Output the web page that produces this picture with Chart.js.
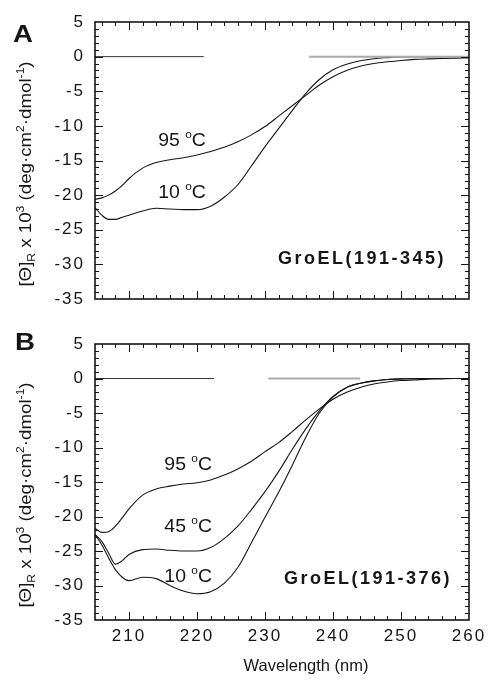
<!DOCTYPE html>
<html>
<head>
<meta charset="utf-8">
<script src="https://cdn.jsdelivr.net/npm/chart.js@4.4.1/dist/chart.umd.min.js"></script>
<style>
  html, body { margin: 0; padding: 0; background: #fff; }
  #wrap { position: relative; width: 491px; height: 684px; }
  canvas { position: absolute; left: 0; }
  #cvA { top: 0; }
  #cvB { top: 320px; }
</style>
</head>
<body>
<div id="wrap">
  <canvas id="cvA" width="491" height="320"></canvas>
  <canvas id="cvB" width="491" height="364"></canvas>
</div>
<script>
// ── data (values x 10^3) ──────────────────────────────────────
const wavelengths = [205, 206, 207, 208, 209, 210, 212, 214, 216, 218, 220, 222, 224, 226, 228,
                     230, 232, 234, 236, 238, 240, 242, 244, 246, 248, 250, 252, 254, 256, 258, 260];

// GroEL(191-345)
const groelA_10C = [-21.8, -22.9, -23.5, -23.5, -23.2, -22.9, -22.3, -21.9, -22.0, -22.1, -22.1, -21.6, -20.3, -18.5, -15.8,
                    -13.0, -10.4, -7.8, -5.3, -3.3, -1.9, -1.1, -0.6, -0.3, -0.15, -0.05, 0, 0, 0, 0, 0];
const groelA_95C = [-20.6, -20.4, -20.0, -19.4, -18.6, -17.6, -16.1, -15.3, -14.9, -14.6, -14.2, -13.7, -13.1, -12.3, -11.3,
                    -10.1, -8.6, -7.1, -5.6, -4.1, -2.9, -2.0, -1.4, -1.0, -0.75, -0.55, -0.4, -0.32, -0.26, -0.22, -0.2];

// GroEL(191-376)
const groelB_10C = [-22.6, -24.1, -26.0, -27.7, -28.8, -29.3, -28.8, -29.0, -30.0, -30.8, -31.2, -30.9, -29.7, -27.4, -23.8,
                    -20.1, -16.5, -12.6, -8.5, -5.0, -2.7, -1.3, -0.7, -0.35, -0.15, -0.05, 0, 0, 0, 0, 0];
const groelB_45C = [-22.6, -23.6, -25.3, -26.9, -26.4, -25.5, -24.8, -24.7, -24.9, -25.0, -25.0, -24.5, -23.2, -21.4, -19.0,
                    -16.4, -13.5, -10.3, -7.3, -4.7, -2.6, -1.3, -0.7, -0.35, -0.15, -0.05, 0, 0, 0, 0, 0];
const groelB_95C = [-21.7, -22.3, -22.2, -21.4, -20.2, -18.9, -16.9, -16.0, -15.6, -15.3, -15.1, -14.7, -14.0, -13.1, -12.0,
                    -10.6, -9.3, -7.7, -6.0, -4.4, -3.0, -2.0, -1.3, -0.8, -0.5, -0.3, -0.2, -0.1, -0.05, 0, 0];

// zero baseline pieces (wavelength ranges): dark part, then grey part
const baseA_dark = [205, 221];
const baseA_grey = [236.5, 260];
const baseB_dark = [205, 222.5];
const baseB_grey = [230.5, 244];

const xTicks = [210, 220, 230, 240, 250, 260];
const yTicks = [5, 0, -5, -10, -15, -20, -25, -30, -35];

const FONT = "'Liberation Sans', Arial, Helvetica, sans-serif";
const INK = '#151515';

// draw a run of text pieces (sub/superscripts) as one line
function rich(ctx, x, y, parts, o = {}) {
  ctx.save();
  ctx.translate(x, y);
  if (o.angle) ctx.rotate(o.angle);
  ctx.scale(o.sx || 1, 1);
  ctx.fillStyle = INK;
  ctx.textBaseline = 'alphabetic';
  ctx.textAlign = 'left';
  let total = 0;
  parts.forEach(p => {
    ctx.font = `${p.bold ? 'bold ' : ''}${p.size}px ${FONT}`;
    ctx.letterSpacing = (p.ls || 0) + 'px';
    p.w = ctx.measureText(p.t).width;
    total += p.w;
  });
  let cx = o.align === 'right' ? -total : o.align === 'left' ? 0 : -total / 2;
  parts.forEach(p => {
    ctx.font = `${p.bold ? 'bold ' : ''}${p.size}px ${FONT}`;
    ctx.letterSpacing = (p.ls || 0) + 'px';
    ctx.fillText(p.t, cx, p.dy || 0);
    cx += p.w;
  });
  ctx.restore();
}

function degLabel(num) {
  return [{ t: num + ' ', size: 18 }, { t: 'o', size: 11, dy: -8 }, { t: 'C', size: 18 }];
}

const yTitle = [
  { t: '[Θ]', size: 17 }, { t: 'R', size: 11, dy: 4 },
  { t: ' x 10', size: 17 }, { t: '3', size: 11, dy: -7 },
  { t: ' (deg·cm', size: 17 }, { t: '2', size: 11, dy: -7 },
  { t: '·dmol', size: 17 }, { t: '-1', size: 11, dy: -7 },
  { t: ')', size: 17 }
];

// frame + inward minor/major ticks on all four sides
const frameTicks = {
  id: 'frameTicks',
  beforeDraw(chart) { chart.ctx.letterSpacing = '2px'; },
  afterDatasetsDraw(chart) {
    const { ctx, chartArea: a, scales: { x, y } } = chart;
    ctx.save();
    ctx.letterSpacing = '0px';
    ctx.strokeStyle = INK;
    ctx.lineWidth = 1;
    ctx.beginPath();
    for (let v = 206; v < 260; v += 2) {
      const px = Math.round(x.getPixelForValue(v)) + 0.5;
      const len = v % 10 === 0 ? 8 : 4;
      ctx.moveTo(px, a.bottom); ctx.lineTo(px, a.bottom - len);
      ctx.moveTo(px, a.top); ctx.lineTo(px, a.top + len);
    }
    for (let v = -34; v < 5; v++) {
      const py = Math.round(y.getPixelForValue(v)) + 0.5;
      const len = v % 5 === 0 ? 8 : 4;
      ctx.moveTo(a.left, py); ctx.lineTo(a.left + len, py);
      ctx.moveTo(a.right, py); ctx.lineTo(a.right - len, py);
    }
    ctx.stroke();
    ctx.lineWidth = 1.6;
    ctx.strokeRect(a.left, a.top, a.right - a.left, a.bottom - a.top);
    ctx.restore();
  }
};

// panel letter, construct name, curve labels, axis titles
const panelText = {
  id: 'panelText',
  afterDraw(chart, args, opts) {
    const { ctx, scales: { x, y } } = chart;
    ctx.save();
    ctx.letterSpacing = '0px';
    rich(ctx, opts.letterX, opts.letterY, [{ t: opts.letter, size: 24, bold: true }], { align: 'left', sx: 1.15 });
    rich(ctx, opts.nameX, opts.nameY, [{ t: opts.name, size: 18, bold: true, ls: 2.5 }], { align: 'right' });
    opts.curves.forEach(c => {
      rich(ctx, x.getPixelForValue(c.nm), y.getPixelForValue(c.v) + 6, degLabel(c.t), { sx: 1.08 });
    });
    rich(ctx, 31, opts.yTitleY, yTitle, { angle: -Math.PI / 2, sx: 1.1 });
    if (opts.xTitle) rich(ctx, 306, 351, [{ t: opts.xTitle, size: 16.5 }], {});
    ctx.restore();
  }
};

function line(xs, ys, color, width) {
  return {
    data: xs.map((w, i) => ({ x: w, y: ys[i] })),
    borderColor: color, borderWidth: width,
    pointRadius: 0, cubicInterpolationMode: 'monotone', fill: false
  };
}
function base(range, color, width) {
  return { data: range.map(w => ({ x: w, y: 0 })), borderColor: color, borderWidth: width, pointRadius: 0 };
}

function makePanel(id, datasets, conf) {
  return new Chart(document.getElementById(id), {
    type: 'line',
    data: { datasets },
    options: {
      responsive: false,
      animation: false,
      events: [],
      layout: { padding: { left: 0, right: 22, top: conf.top, bottom: 0 } },
      plugins: { legend: { display: false }, tooltip: { enabled: false }, panelText: conf },
      scales: {
        x: {
          type: 'linear', min: 205, max: 260,
          grid: { display: false, drawTicks: false }, border: { display: false },
          afterBuildTicks: s => { s.ticks = xTicks.map(v => ({ value: v })); },
          afterFit: s => { s.height = conf.xHeight; },
          ticks: { display: conf.showX, color: INK, font: { family: FONT, size: 17 }, padding: 6, maxRotation: 0, autoSkip: false }
        },
        y: {
          type: 'linear', min: -35, max: 5,
          grid: { display: false, drawTicks: false }, border: { display: false },
          afterBuildTicks: s => { s.ticks = yTicks.map(v => ({ value: v })); },
          afterFit: s => { s.width = 95; },
          ticks: { color: INK, font: { family: FONT, size: 17 }, padding: 10 }
        }
      }
    },
    plugins: [frameTicks, panelText]
  });
}

makePanel('cvA', [
  base(baseA_dark, '#333', 1),
  base(baseA_grey, '#aaa', 2),
  line(wavelengths, groelA_10C, INK, 1.1),
  line(wavelengths, groelA_95C, INK, 1.1)
], {
  top: 22, xHeight: 21, showX: false,
  letter: 'A', letterX: 13, letterY: 42,
  name: 'GroEL(191-345)', nameX: 446, nameY: 264,
  yTitleY: 174,
  curves: [{ t: '95', nm: 217.8, v: -12.0 }, { t: '10', nm: 217.8, v: -19.6 }]
});

makePanel('cvB', [
  base(baseB_dark, '#333', 1),
  base(baseB_grey, '#aaa', 2),
  line(wavelengths, groelB_10C, INK, 1.1),
  line(wavelengths, groelB_45C, INK, 1.1),
  line(wavelengths, groelB_95C, INK, 1.1)
], {
  top: 24, xHeight: 64, showX: true,
  letter: 'B', letterX: 15, letterY: 30,
  name: 'GroEL(191-376)', nameX: 452, nameY: 264,
  yTitleY: 175, xTitle: 'Wavelength (nm)',
  curves: [{ t: '95', nm: 218.7, v: -12.4 }, { t: '45', nm: 218.7, v: -21.4 }, { t: '10', nm: 218.7, v: -28.6 }]
});
</script>
</body>
</html>
